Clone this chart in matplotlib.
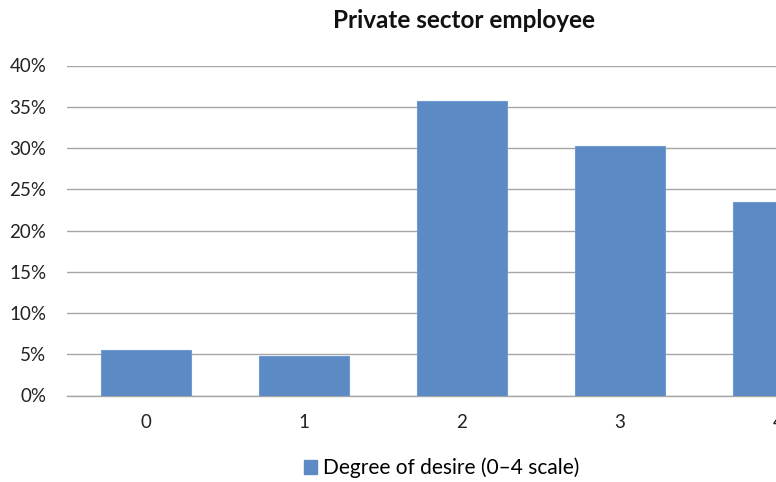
import matplotlib.pyplot as plt
from matplotlib.patches import Patch
from matplotlib.ticker import FuncFormatter

# data
categories = ['0', '1', '2', '3', '4']
shares = [5.5, 4.8, 35.7, 30.2, 23.4]  # percent
title = 'Private sector employee'
legend_label = 'Degree of desire (0\u20134 scale)'

bar_color = '#5B8AC5'
grid_color = '#A6A6A6'

plt.rcParams['font.family'] = ['Lato', 'DejaVu Sans']

fig = plt.figure(figsize=(7.76, 4.82), dpi=100)
# chart runs past the right edge of the picture, as in the reference
ax = fig.add_axes([67 / 776, 86.5 / 482, 790 / 776, 330 / 482])

x = range(len(categories))
ax.bar(x, shares, width=0.575, color=bar_color, edgecolor='#6E9BD0', linewidth=0.8, zorder=3)

ax.set_xlim(-0.5, 4.5)
ax.set_ylim(0, 40)
ax.set_yticks(range(0, 45, 5))
ax.yaxis.set_major_formatter(FuncFormatter(lambda v, p: '%d%%' % v))
ax.set_xticks(list(x))
ax.set_xticklabels(categories)

ax.grid(axis='y', color=grid_color, linewidth=1.0, zorder=0)
for side in ['left', 'right', 'top']:
    ax.spines[side].set_visible(False)
ax.spines['bottom'].set_color(grid_color)
ax.spines['bottom'].set_linewidth(1.0)
ax.tick_params(axis='y', length=0, pad=15, labelsize=13.5, colors='#222222')
ax.tick_params(axis='x', length=0, pad=13, labelsize=13.5, colors='#222222')

fig.text(464 / 776, 1 - 21 / 482, title, ha='center', va='center',
         fontsize=17.5, fontweight='bold', color='#111111')

handle = Patch(facecolor=bar_color, edgecolor=bar_color)
fig.legend([handle], [legend_label], loc='center', bbox_to_anchor=(442 / 776, 1 - 468 / 482),
           frameon=False, fontsize=15, handlelength=0.6, handleheight=0.6, handletextpad=0.3)

fig.savefig('out.png', dpi=100)
